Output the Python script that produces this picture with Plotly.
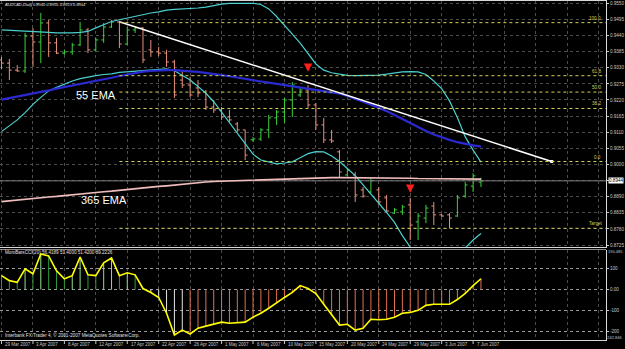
import plotly.graph_objects as go

# ---------------- data ----------------
date_labels = ["29 Mar 2007", "3 Apr 2007", "8 Apr 2007", "12 Apr 2007", "17 Apr 2007",
               "22 Apr 2007", "26 Apr 2007", "1 May 2007", "6 May 2007", "10 May 2007",
               "15 May 2007", "20 May 2007", "24 May 2007", "29 May 2007", "3 Jun 2007",
               "7 Jun 2007"]
bars_per_label = 4

opens = [0.9357, 0.9346, 0.9322, 0.9319, 0.9438, 0.9418, 0.9483, 0.9415, 0.9380, 0.9384,
         0.9408, 0.9459, 0.9391, 0.9425, 0.9469, 0.9486, 0.9411, 0.9459, 0.9466, 0.9391,
         0.9384, 0.9380, 0.9350, 0.9288, 0.9271, 0.9261, 0.9247, 0.9196, 0.9186, 0.9162,
         0.9138, 0.9118, 0.9084, 0.9087, 0.9118, 0.9159, 0.9179, 0.9220, 0.9237, 0.9254,
         0.9203, 0.9135, 0.9084, 0.9043, 0.8964, 0.8964, 0.8913, 0.8906, 0.8913, 0.8886,
         0.8834, 0.8838, 0.8862, 0.8804, 0.8817, 0.8858, 0.8828, 0.8828, 0.8824, 0.8892,
         0.8926, 0.8940]
highs = [0.9367, 0.9360, 0.9339, 0.9449, 0.9466, 0.9517, 0.9493, 0.9432, 0.9391, 0.9415,
         0.9486, 0.9466, 0.9432, 0.9483, 0.9493, 0.9490, 0.9469, 0.9469, 0.9469, 0.9425,
         0.9401, 0.9391, 0.9357, 0.9322, 0.9299, 0.9288, 0.9254, 0.9220, 0.9196, 0.9186,
         0.9145, 0.9118, 0.9094, 0.9124, 0.9169, 0.9186, 0.9227, 0.9281, 0.9261, 0.9271,
         0.9210, 0.9159, 0.9118, 0.9049, 0.8988, 0.8974, 0.8923, 0.8954, 0.8923, 0.8896,
         0.8851, 0.8862, 0.8886, 0.8834, 0.8862, 0.8872, 0.8831, 0.8834, 0.8896, 0.8940,
         0.8970, 0.8955]
lows = [0.9326, 0.9288, 0.9316, 0.9312, 0.9333, 0.9346, 0.9367, 0.9377, 0.9374, 0.9374,
        0.9404, 0.9380, 0.9387, 0.9415, 0.9466, 0.9397, 0.9408, 0.9449, 0.9346, 0.9367,
        0.9370, 0.9333, 0.9227, 0.9261, 0.9230, 0.9230, 0.9186, 0.9176, 0.9152, 0.9145,
        0.9111, 0.9015, 0.9077, 0.9080, 0.9090, 0.9135, 0.9142, 0.9162, 0.9230, 0.9193,
        0.9118, 0.9073, 0.9073, 0.8954, 0.8961, 0.8872, 0.8886, 0.8903, 0.8862, 0.8834,
        0.8831, 0.8828, 0.8742, 0.8742, 0.8800, 0.8793, 0.8821, 0.8783, 0.8821, 0.8886,
        0.8906, 0.8923]
closes = [0.9346, 0.9322, 0.9319, 0.9438, 0.9418, 0.9483, 0.9415, 0.9380, 0.9384, 0.9408,
          0.9459, 0.9391, 0.9425, 0.9469, 0.9486, 0.9411, 0.9459, 0.9466, 0.9357, 0.9384,
          0.9380, 0.9350, 0.9237, 0.9271, 0.9237, 0.9244, 0.9196, 0.9186, 0.9162, 0.9152,
          0.9118, 0.9032, 0.9087, 0.9118, 0.9159, 0.9179, 0.9220, 0.9271, 0.9254, 0.9203,
          0.9135, 0.9084, 0.9080, 0.8974, 0.8981, 0.8896, 0.8892, 0.8944, 0.8872, 0.8841,
          0.8845, 0.8855, 0.8793, 0.8824, 0.8851, 0.8828, 0.8824, 0.8817, 0.8886, 0.8930,
          0.8961, 0.8944]

ema55 = [0.9221, 0.9226, 0.9232, 0.9237, 0.9242, 0.9248, 0.9253, 0.9259, 0.9264, 0.9269,
         0.9275, 0.9280, 0.9286, 0.9291, 0.9296, 0.9302, 0.9307, 0.9312, 0.9317, 0.9319,
         0.9321, 0.9322, 0.9322, 0.9321, 0.9318, 0.9316, 0.9313, 0.9310, 0.9305, 0.9301,
         0.9296, 0.9292, 0.9288, 0.9283, 0.9279, 0.9275, 0.9270, 0.9265, 0.9261, 0.9258,
         0.9254, 0.9250, 0.9247, 0.9242, 0.9234, 0.9223, 0.9214, 0.9204, 0.9194, 0.9182,
         0.9169, 0.9155, 0.9141, 0.9128, 0.9114, 0.9102, 0.9092, 0.9084, 0.9076, 0.9070,
         0.9065, 0.9061]
ema365 = [0.8873, 0.8876, 0.8878, 0.8881, 0.8883, 0.8886, 0.8889, 0.8891, 0.8894, 0.8896,
          0.8899, 0.8902, 0.8904, 0.8907, 0.8909, 0.8912, 0.8914, 0.8917, 0.8919, 0.8922,
          0.8925, 0.8927, 0.8930, 0.8932, 0.8935, 0.8937, 0.8940, 0.8942, 0.8943, 0.8944,
          0.8945, 0.8946, 0.8947, 0.8948, 0.8949, 0.8950, 0.8951, 0.8952, 0.8953, 0.8954,
          0.8954, 0.8955, 0.8955, 0.8955, 0.8955, 0.8954, 0.8954, 0.8954, 0.8954, 0.8953,
          0.8953, 0.8953, 0.8953, 0.8952, 0.8952, 0.8952, 0.8951, 0.8951, 0.8951, 0.8950,
          0.8950, 0.8950]
bb_upper = [0.9459, 0.9458, 0.9456, 0.9455, 0.9453, 0.9452, 0.9451, 0.9449, 0.9448, 0.9449,
            0.9451, 0.9454, 0.9466, 0.9478, 0.9488, 0.9494, 0.9500, 0.9506, 0.9512, 0.9517,
            0.9521, 0.9527, 0.9529, 0.9530, 0.9532, 0.9534, 0.9537, 0.9543, 0.9547, 0.9550,
            0.9550, 0.9550, 0.9550, 0.9546, 0.9531, 0.9505, 0.9476, 0.9445, 0.9414, 0.9377,
            0.9343, 0.9322, 0.9313, 0.9308, 0.9304, 0.9303, 0.9303, 0.9304, 0.9305, 0.9308,
            0.9312, 0.9316, 0.9317, 0.9316, 0.9307, 0.9285, 0.9259, 0.9217, 0.9160, 0.9094,
            0.9049, 0.9008]
bb_lower = [0.9112, 0.9133, 0.9152, 0.9177, 0.9205, 0.9229, 0.9251, 0.9263, 0.9274, 0.9285,
            0.9293, 0.9299, 0.9303, 0.9307, 0.9309, 0.9314, 0.9316, 0.9319, 0.9322, 0.9324,
            0.9326, 0.9326, 0.9320, 0.9304, 0.9288, 0.9266, 0.9243, 0.9214, 0.9178, 0.9141,
            0.9105, 0.9068, 0.9035, 0.9015, 0.9008, 0.9002, 0.9005, 0.9009, 0.9023, 0.9037,
            0.9044, 0.9043, 0.9029, 0.9010, 0.8986, 0.8962, 0.8930, 0.8899, 0.8865, 0.8836,
            0.8802, 0.8757, 0.8718, 0.8694, 0.8674, 0.8667, 0.8667, 0.8681, 0.8688, 0.8715,
            0.8742, 0.8764]
cci = [67, 43, 35, 100, 76, 171, 162, 90, 52, 67,
       157, 71, 67, 129, 152, 67, 81, 71, 5, -14,
       -38, -114, -219, -195, -214, -186, -176, -167, -157, -162,
       -160, -157, -133, -114, -90, -62, -38, -14, 19, 5,
       -19, -71, -124, -171, -167, -195, -186, -143, -145, -143,
       -133, -114, -110, -100, -76, -71, -71, -71, -48, -19,
       19, 52]

price_ticks = [0.9550, 0.9495, 0.9440, 0.9385, 0.9330, 0.9275, 0.9220, 0.9165,
               0.9110, 0.9055, 0.9000, 0.8945, 0.8890, 0.8835, 0.8780, 0.8725]
price_min, price_max = 0.87182, 0.95579
cci_levels = [100, 0, -100, -200]
cci_min, cci_max = -242.846, 190.485

trend_idx = [15, 70]
trend_price = [0.9487, 0.9010]
fib_start = 15
fib_high, fib_low = 0.9484, 0.9010
fib_ratios = [100.0, 61.8, 50.0, 38.2, 0.0]
target_price = 0.8782
arrow_idx = [39, 52]
arrow_price = [0.9316, 0.8903]
bid = 0.8944

title_text = "AUDCAD,Daily 0.8940 0.8955 0.8923 0.8944"
cci_title = "MomBarsCCI(20) 56.4189 51.4000 51.4200 89.2226"
copyright_text = "Interbank FX Trader 4, \u00a9 2001-2007 MetaQuotes Software Corp."

# ---------------- geometry / style ----------------
W, H = 625, 349
PLOT_R = 606.0
MAIN_TOP, MAIN_BOT = 1.0, 247.0
CCI_TOP, CCI_BOT = 250.0, 340.0
BAR_X0, BAR_DX = 1.5, 7.86
FONT = "Liberation Sans"
GRID = "#4c4c4c"
UP, DOWN = "#3cd23c", "#e8907c"
CYAN, BLUE, PINK = "#4ccfcf", "#2a2ad0", "#f0bcbc"
FIBC = "#d2d25a"

def py(px):
    return 1 - px / H

xr = [-BAR_X0 / BAR_DX, (PLOT_R - BAR_X0) / BAR_DX]
X = list(range(len(closes)))
n_grid = int(xr[1]) // bars_per_label + 1
grid_vals = [k * bars_per_label for k in range(n_grid)]
label_vals = [k * bars_per_label for k in range(len(date_labels))]

fig = go.Figure()

def line(vals, color, width, xa="x", ya="y", xs=None):
    fig.add_trace(go.Scatter(x=xs if xs is not None else X, y=vals, mode="lines",
                             line=dict(color=color, width=width), xaxis=xa, yaxis=ya,
                             hoverinfo="skip", showlegend=False))

# bid (last price) line across the whole main panel
line([bid, bid], "#7c7c7c", 1, xs=xr)
line(bb_upper, CYAN, 1.2)
line(bb_lower, CYAN, 1.2)
line(ema365, PINK, 1.6)
line(ema55, BLUE, 2.2)

fig.add_trace(go.Ohlc(x=X, open=opens, high=highs, low=lows, close=closes,
                      increasing=dict(line=dict(color=UP, width=1)),
                      decreasing=dict(line=dict(color=DOWN, width=1)),
                      tickwidth=0.3, xaxis="x", yaxis="y", hoverinfo="skip",
                      showlegend=False))

line(trend_price, "#ffffff", 1.5, xs=trend_idx)
fig.add_trace(go.Scatter(x=[trend_idx[-1]], y=[trend_price[-1]], mode="markers",
                         marker=dict(symbol="square", size=3, color="#ffffff"),
                         xaxis="x", yaxis="y", hoverinfo="skip", showlegend=False))

# CCI histogram
k0 = next(i for i, v in enumerate(cci) if v < 0)
def hist_color(i):
    if i < k0:
        if i > 0 and cci[i] >= cci[i - 1]:
            return "#8ee08e"
        return "#2f9a3a"
    if i < k0 + 5:
        return "#e6e6e6"
    return "#e0704e"
groups = {}
for i, v in enumerate(cci):
    gx, gy = groups.setdefault(hist_color(i), ([], []))
    gx += [i, i, None]
    gy += [0, v, None]
for c, (gx, gy) in groups.items():
    line(gy, c, 1, xa="x2", ya="y2", xs=gx)
line(cci, "#ffff00", 1.6, xa="x2", ya="y2")

# ---------------- shapes ----------------
shapes = []
fib_levels = [fib_low + r / 100.0 * (fib_high - fib_low) for r in fib_ratios]
for lv in fib_levels + [target_price]:
    shapes.append(dict(type="line", xref="x", x0=fib_start, x1=xr[1], yref="y", y0=lv, y1=lv,
                       line=dict(color=FIBC, width=1, dash="dot")))
shapes.append(dict(type="line", xref="paper", x0=0, x1=PLOT_R / W, yref="paper",
                   y0=py(CCI_TOP - 0.5), y1=py(CCI_TOP - 0.5),
                   line=dict(color="#8a8a8a", width=1)))
# small date tick marks under the indicator window
for v in label_vals:
    shapes.append(dict(type="line", xref="x2", x0=v, x1=v, yref="paper",
                       y0=py(CBOT := CCI_BOT), y1=py(CCI_BOT + 4),
                       line=dict(color="#c8c8c8", width=1)))

# ---------------- annotations ----------------
ann = []
def txt(text, x, y, size, color, xref="paper", yref="paper", xanchor="left",
        yanchor="middle", **kw):
    ann.append(dict(text=text, x=x, y=y, xref=xref, yref=yref, xanchor=xanchor,
                    yanchor=yanchor, showarrow=False,
                    font=dict(family=FONT, size=size, color=color), **kw))

for r, lv in zip(fib_ratios, fib_levels):
    txt(f"{r:.1f}", 603 / W, lv, 4.6, FIBC, yref="y", xanchor="right", yanchor="bottom")
txt("Target", 604 / W, target_price, 4.6, FIBC, yref="y", xanchor="right", yanchor="bottom")

txt("55 EMA", 12, 0.9236, 11, "#ffffff", xref="x", yref="y", xanchor="center")
txt("365 EMA", 13, 0.8879, 11, "#ffffff", xref="x", yref="y", xanchor="center")

txt(title_text, 3 / W, py(5), 4.0, "#e0e0e0")
txt(cci_title, 3 / W, py(CCI_TOP + 2.5), 4.6, "#e0e0e0")
txt(copyright_text, 3 / W, py(CCI_BOT - 5), 4.7, "#e0e0e0")

txt(f"{bid:.4f}", 608 / W, bid, 4.6, "#000000", yref="y", bgcolor="#ffffff", borderpad=0)
txt(f"{cci_max:.3f}", 1.0, py(CCI_TOP + 1.5), 4.0, "#c8c8c8", xanchor="right")
txt(f"{cci_min:.3f}", 1.0, py(CCI_BOT - 3), 4.0, "#c8c8c8", xanchor="right")

for v, lab in zip(label_vals, date_labels):
    txt(lab, v, py(CCI_BOT + 4), 4.5, "#c8c8c8", xref="x2", xshift=1.5)

for i, p in zip(arrow_idx, arrow_price):
    ann.append(dict(x=i, y=p, xref="x", yref="y", text="", showarrow=True, ax=0, ay=-7,
                    arrowhead=2, arrowsize=0.7, arrowwidth=2.4, arrowcolor="#ff1e1e"))

price_text = [("" if abs(t - bid) < 0.0003 else f"{t:.4f}") for t in price_ticks]
cci_text = [("0.00" if v == 0 else f"{v}") for v in cci_levels]

fig.update_layout(
    width=W, height=H, margin=dict(l=0, r=0, t=0, b=0),
    paper_bgcolor="#000000", plot_bgcolor="#000000",
    showlegend=False, hovermode=False,
    xaxis=dict(domain=[0, PLOT_R / W], range=xr, anchor="y", tickmode="array",
               tickvals=grid_vals, showticklabels=False, ticks="",
               showgrid=True, gridcolor=GRID, griddash="dot", gridwidth=1,
               zeroline=False, showline=True, linecolor="#d8d8d8", linewidth=1,
               mirror=True, rangeslider=dict(visible=False), fixedrange=True),
    xaxis2=dict(domain=[0, PLOT_R / W], range=xr, anchor="y2", tickmode="array",
                tickvals=grid_vals, showticklabels=False, ticks="",
                showgrid=True, gridcolor=GRID, griddash="dot",
                zeroline=False, showline=True, linecolor="#d8d8d8", linewidth=1,
                fixedrange=True),
    yaxis=dict(domain=[py(MAIN_BOT), py(MAIN_TOP)], range=[price_min, price_max],
               anchor="x", side="right", tickmode="array", tickvals=price_ticks,
               ticktext=price_text, ticks="outside", ticklen=2, tickcolor="#c8c8c8",
               tickfont=dict(family=FONT, size=4.6, color="#c8c8c8"),
               showgrid=True, gridcolor=GRID, griddash="dot", zeroline=False,
               showline=True, linecolor="#d8d8d8", linewidth=1, fixedrange=True),
    yaxis2=dict(domain=[py(CCI_BOT), py(CCI_TOP)], range=[cci_min, cci_max],
                anchor="x2", side="right", tickmode="array", tickvals=cci_levels,
                ticktext=cci_text, ticks="outside", ticklen=2, tickcolor="#c8c8c8",
                tickfont=dict(family=FONT, size=4.6, color="#c8c8c8"),
                showgrid=True, gridcolor="#9a9a9a", griddash="dot", zeroline=False,
                showline=True, linecolor="#d8d8d8", linewidth=1, fixedrange=True),
    shapes=shapes, annotations=ann,
)

fig.write_html("out.html")
